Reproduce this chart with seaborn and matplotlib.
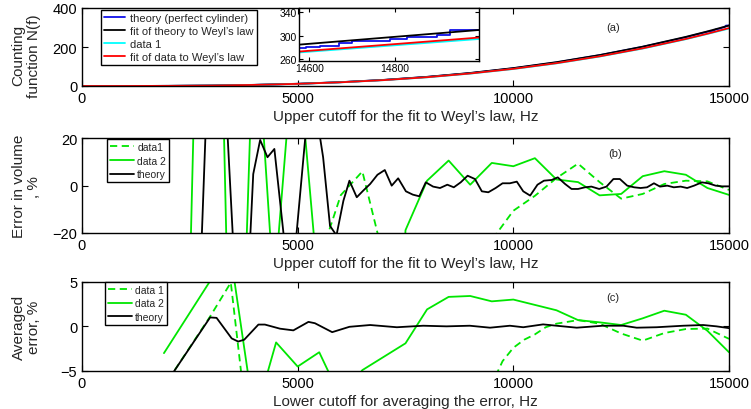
import matplotlib
matplotlib.use("Agg")
import matplotlib.pyplot as plt
import seaborn as sns

# ---------------- data ----------------
# panel (a): counting function
grid_a = [0, 1000, 2000, 3000, 4000, 5000, 6000, 7000, 8000, 9000, 10000,
          11000, 12000, 13000, 14000, 14500, 15000]
fit_theory_N = [0, 0.09, 0.73, 2.48, 5.9, 11.5, 19.8, 31.5, 47, 66.9, 91.9,
                122.3, 158.7, 201.8, 252, 280, 310]
fit_data_N = [0, 0.09, 0.70, 2.38, 5.63, 11, 19, 30.2, 45.1, 64.2, 88,
              117.1, 152.1, 193.3, 241.4, 268.3, 297]
data1_N = [0, 0.1, 0.7, 2.3, 5.5, 10.8, 18.8, 30, 44.5, 63.5, 87,
           116, 151, 192, 240, 267, 294.5]
theory_f = [0, 1000, 2000, 3000, 4000, 5000, 6000, 7000, 8000, 9000, 10000,
            11000, 12000, 13000, 14000, 14500, 14592, 14625, 14670, 14699,
            14788, 14827, 14897, 14928, 15000]
theory_N = [0, 0.1, 0.7, 2.4, 5.8, 11.2, 19.5, 31, 46.5, 66, 91,
            121, 158, 201, 250, 278.4, 280, 281.8, 287, 290.9,
            294.3, 298.3, 301.8, 309.8, 310.5]

# panel (b): error in volume
theory_b_f = [2700, 2900, 3350, 3550, 3800, 3970, 4130, 4300, 4460, 4700, 4850,
              5250, 5420, 5590, 5750, 5900, 6060, 6200, 6370, 6520, 6680, 6850,
              7020, 7180, 7330, 7510, 7670, 7820, 7970, 8140, 8300, 8470, 8620,
              8780, 8940, 9110, 9270, 9420, 9590, 9750, 9920, 10080, 10230,
              10390, 10560, 10710, 10890, 11030, 11200, 11350, 11500, 11660,
              11810, 11990, 12160, 12320, 12470, 12640, 12800, 12950, 13100,
              13260, 13400, 13570, 13720, 13880, 14030, 14190, 14370, 14520,
              14690, 14840, 15000]
theory_b = [-60, 40, 30, -40, -60, 4.9, 19.3, 12, 15.5, -25, -45,
            35, 32, 12, -17, -21, -6.4, 2.1, -4.9, -2.1, 0.7, 4.6,
            6.6, 0.0, 3.1, -2.4, -3.8, -4.5, 1.4, -0.4, -1.0, 0.4, -0.7,
            1.4, 4.2, 2.8, -2.4, -2.8, -1.0, 1.0, 1.0, 1.7, -2.4,
            -4.2, 0.4, 2.1, 2.4, 3.5, 0.7, -1.4, -1.4, -0.7,
            -0.4, -1.4, -0.4, 2.8, 2.8, 0.0, -0.7, -1.0, -0.7,
            1.0, -0.4, 0.0, -0.7, -0.4, -1.0, 0.0, 1.4, 1.0,
            0.0, -0.3, -0.3]
data2_b_f = [2500, 2950, 3380, 3750, 4000, 4450, 4950, 5500, 6000, 6500, 7000,
             7500, 8000, 8500, 9000, 9500, 10000, 10500, 11000, 11500, 12000,
             12500, 13000, 13500, 14000, 14500, 15000]
data2_b = [-40, 300, -50, -60, 80, -45, 67.5, -47, -150, -100, -200,
           -18.8, 2.1, 10.6, 0.4, 9.6, 8.2, 11.6, 2.6, 1.5, -4.1,
           -3.5, 4.0, 6.1, 4.6, -1.0, -3.9]
data1_b_f = [2500, 5000, 5500, 6000, 6500, 7000, 7500, 8000, 8500, 9000, 9500,
             10000, 10500, 11000, 11500, 12000, 12500, 13000, 13500, 14000,
             14500, 15000]
data1_b = [-60, -60, -31.6, -4.0, 6.0, -31, -80, -90, -70, -50, -23,
           -10.6, -4.3, 3.2, 9.3, 1.5, -5.5, -3.5, 0.7, 2.1,
           1.8, -1.8]

# panel (c): averaged error
theory_c_f = [2000, 2970, 3120, 3470, 3620, 3760, 4090, 4240, 4590, 4900, 5250,
              5400, 5800, 6200, 6680, 7300, 7910, 8450, 8990, 9460, 9920,
              10230, 10690, 11000, 11470, 12080, 12550, 12860, 13320, 13940,
              14400, 14710, 15000]
theory_c = [-6.0, 1.0, 0.95, -1.35, -1.7, -1.5, 0.2, 0.2, -0.26, -0.45, 0.5,
            0.35, -0.65, -0.05, 0.15, -0.1, 0.07, 0.0, 0.07, -0.15, 0.07,
            -0.1, 0.22, 0.07, -0.15, 0.07, 0.07, -0.15, -0.1, 0.07,
            0.15, 0.0, -0.2]
data2_c_f = [1900, 3000, 3500, 4000, 4500, 5000, 5500, 6000, 6500, 7000, 7500,
             8000, 8500, 9000, 9500, 10000, 10500, 11000, 11500, 12000, 12500,
             13000, 13500, 14000, 14500, 15000]
data2_c = [-3.0, 5.3, 6.2, -10.3, -1.8, -4.5, -2.9, -8.0, -4.9, -3.4, -1.9,
           1.9, 3.3, 3.4, 2.8, 3.0, 2.4, 1.8, 0.7, 0.45, 0.15,
           0.9, 1.75, 1.3, -0.5, -2.9]
data1_c_f = [2000, 2970, 3450, 3700, 4000, 9000, 9500, 9750, 10000, 10250,
             10500, 10750, 11000, 11500, 12000, 12500, 13000, 13500, 14000,
             14500, 15000]
data1_c = [-6.0, 1.1, 4.9, -5.6, -20, -20, -6.5, -3.9, -2.4, -1.5,
           -0.9, -0.1, 0.3, 0.7, 0.3, -0.8, -1.6, -0.75, -0.3,
           -0.25, -1.4]

xticks = [0, 5000, 10000, 15000]

# ---------------- style ----------------
sns.set_style("ticks")
plt.rcParams['font.family'] = ['Liberation Sans', 'DejaVu Sans']
plt.rcParams.update({
    'xtick.direction': 'in', 'ytick.direction': 'in',
    'xtick.top': True, 'ytick.right': True,
    'xtick.major.size': 4, 'ytick.major.size': 4,
    'xtick.major.width': 0.8, 'ytick.major.width': 0.8,
    'axes.linewidth': 1.0, 'axes.edgecolor': 'black',
    'xtick.labelsize': 10.5, 'ytick.labelsize': 10.5,
    'xtick.color': 'black', 'ytick.color': 'black',
})

BLUE = '#1010e8'
GREEN = '#00e600'
CYAN = '#00ffff'
RED = '#ff0000'
DASH = (0, (4, 2.5))


def draw(ax, x, y, color, ls='-', lw=1.3, **kw):
    sns.lineplot(x=x, y=y, ax=ax, color=color, linestyle=ls, linewidth=lw,
                 sort=False, estimator=None, legend=False, **kw)
    return ax.lines[-1]


fig = plt.figure(figsize=(7.51, 4.10), dpi=100)
W, H = 751, 410


def axes_px(x0, y0, x1, y1):
    return fig.add_axes([x0 / W, 1 - y1 / H, (x1 - x0) / W, (y1 - y0) / H])


ax_a = axes_px(82, 9, 729, 87)
ax_b = axes_px(82, 139.3, 729, 234)
ax_c = axes_px(82, 282.7, 729, 372)

LABX = -0.063

# ---- panel a ----
ha = [draw(ax_a, theory_f, theory_N, BLUE),
      draw(ax_a, grid_a, fit_theory_N, 'black'),
      draw(ax_a, grid_a, data1_N, CYAN),
      draw(ax_a, grid_a, fit_data_N, RED)]
ax_a.set_xlim(0, 15000)
ax_a.set_ylim(0, 400)
ax_a.set_yticks([0, 200, 400])
ax_a.set_xticks(xticks)
ax_a.set_xticklabels([str(t) for t in xticks])
ax_a.set_xlabel("Upper cutoff for the fit to Weyl’s law, Hz", fontsize=11, labelpad=3)
ax_a.set_ylabel("Counting\nfunction N(f)", fontsize=11, linespacing=1.15)
ax_a.yaxis.set_label_coords(LABX, 0.4)
leg = ax_a.legend(ha, ["theory (perfect cylinder)", "fit of theory to Weyl’s law",
                       "data 1", "fit of data to Weyl’s law"],
                  loc='upper left', bbox_to_anchor=(0.029, 0.975), borderaxespad=0,
                  fontsize=8, frameon=True, fancybox=False, edgecolor='black',
                  framealpha=1, handlelength=1.9, handletextpad=0.45,
                  labelspacing=0.25, borderpad=0.3)
leg.get_frame().set_linewidth(1.0)
ax_a.text(0.821, 0.756, "(a)", transform=ax_a.transAxes, fontsize=8,
          ha='center', va='center')

# inset
ax_in = axes_px(299.3, 9.3, 479, 61.7)
draw(ax_in, theory_f, theory_N, BLUE, drawstyle='steps-post')
draw(ax_in, grid_a, fit_theory_N, 'black')
draw(ax_in, grid_a, data1_N, CYAN)
draw(ax_in, grid_a, fit_data_N, RED)
ax_in.set_xlim(14577, 14996)
ax_in.set_ylim(257, 347)
ax_in.set_xticks([14600, 14800])
ax_in.set_yticks([260, 300, 340])
ax_in.tick_params(labelsize=7.5, length=3, pad=2)
ax_in.set_xlabel("")
ax_in.set_ylabel("")
ax_in.set_facecolor('white')

small_leg = dict(loc='upper left', borderaxespad=0, fontsize=7.5, frameon=True,
                 fancybox=False, edgecolor='black', framealpha=1,
                 handlelength=2.3, handletextpad=0.3, labelspacing=0.35,
                 borderpad=0.3)

# ---- panel b ----
hb = [draw(ax_b, data1_b_f, data1_b, GREEN, ls=DASH),
      draw(ax_b, data2_b_f, data2_b, GREEN),
      draw(ax_b, theory_b_f, theory_b, 'black')]
ax_b.set_xlim(0, 15000)
ax_b.set_ylim(-20, 20)
ax_b.set_yticks([-20, 0, 20])
ax_b.set_xticks(xticks)
ax_b.set_xticklabels([str(t) for t in xticks])
ax_b.set_xlabel("Upper cutoff for the fit to Weyl’s law, Hz", fontsize=11, labelpad=3)
ax_b.set_ylabel("Error in volume\n, %", fontsize=11, linespacing=1.15)
ax_b.yaxis.set_label_coords(LABX, 0.5)
leg = ax_b.legend(hb, ["data1", "data 2", "theory"],
                  bbox_to_anchor=(0.0386, 0.995), **small_leg)
leg.get_frame().set_linewidth(1.0)
ax_b.text(0.824, 0.845, "(b)", transform=ax_b.transAxes, fontsize=8,
          ha='center', va='center')

# ---- panel c ----
hc = [draw(ax_c, data1_c_f, data1_c, GREEN, ls=DASH),
      draw(ax_c, data2_c_f, data2_c, GREEN),
      draw(ax_c, theory_c_f, theory_c, 'black')]
ax_c.set_xlim(0, 15000)
ax_c.set_ylim(-5, 5)
ax_c.set_yticks([-5, 0, 5])
ax_c.set_xticks(xticks)
ax_c.set_xticklabels([str(t) for t in xticks])
ax_c.set_xlabel("Lower cutoff for averaging the error, Hz", fontsize=11, labelpad=3)
ax_c.set_ylabel("Averaged\nerror, %", fontsize=11, linespacing=1.15)
ax_c.yaxis.set_label_coords(LABX, 0.5)
leg = ax_c.legend(hc, ["data 1", "data 2", "theory"],
                  bbox_to_anchor=(0.0355, 1.0), **small_leg)
leg.get_frame().set_linewidth(1.0)
ax_c.text(0.821, 0.829, "(c)", transform=ax_c.transAxes, fontsize=8,
          ha='center', va='center')

fig.savefig("out.png", dpi=100)
